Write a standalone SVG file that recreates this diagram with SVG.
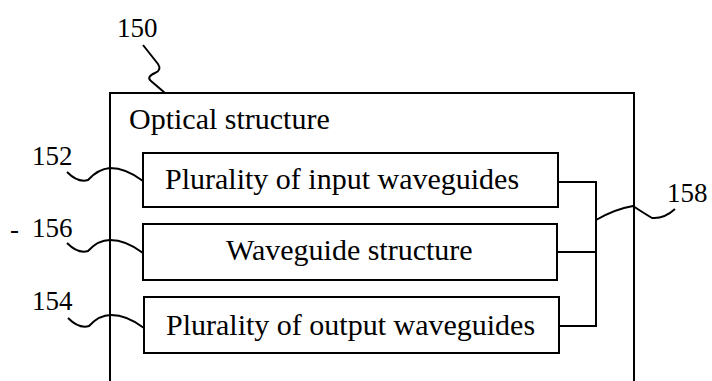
<svg xmlns="http://www.w3.org/2000/svg" width="712" height="381" viewBox="0 0 712 381">
<style>
.box{fill:none;stroke:#000;stroke-width:2}
.ln{fill:none;stroke:#000;stroke-width:2}
.t{font-family:"Liberation Serif","Times New Roman",serif;font-size:30px;fill:#000}
.n{font-family:"Liberation Serif","Times New Roman",serif;font-size:27px;fill:#000}
</style>
<rect width="712" height="381" fill="#fff"/>
<g id="outer">
<path class="box" d="M110,381 L110,93 L634,93 L634,381"/>
<text class="t" x="129" y="129">Optical structure</text>
</g>
<g id="input">
<rect class="box" x="143" y="153" width="415" height="54"/>
<text class="t" x="165" y="189">Plurality of input waveguides</text>
</g>
<g id="wgs">
<rect class="box" x="143" y="224" width="414" height="56"/>
<text class="t" x="226" y="260">Waveguide structure</text>
</g>
<g id="output">
<rect class="box" x="144" y="297" width="415" height="56"/>
<text class="t" x="166" y="335">Plurality of output waveguides</text>
</g>
<g id="connectors">
<path class="ln" d="M558,182 L596,182 L596,326 L559,326 M557,252 L596,252"/>
</g>
<g id="labels">
<text class="n" x="117" y="37">150</text>
<path class="ln" d="M143,45 L158,64 Q162,70 155,73 Q146,77 151,81 L165,93"/>
<text class="n" x="32" y="165">152</text>
<path class="ln" d="M67,172 Q78,183 88,180 Q98,169 110,168 Q126,168 143,181"/>
<text class="n" x="10" y="238">-</text>
<text class="n" x="32" y="237">156</text>
<path class="ln" d="M67,243 Q78,254 88,251 Q98,240 110,240 Q126,240 143,253"/>
<text class="n" x="32" y="310">154</text>
<path class="ln" d="M68,318 Q79,329 89,326 Q99,315 111,315 Q127,315 144,328"/>
<text class="n" x="667" y="202">158</text>
<path class="ln" d="M596,220 Q615,209 633,206 Q642,212 652,218 Q664,219 675,209"/>
</g>
</svg>
